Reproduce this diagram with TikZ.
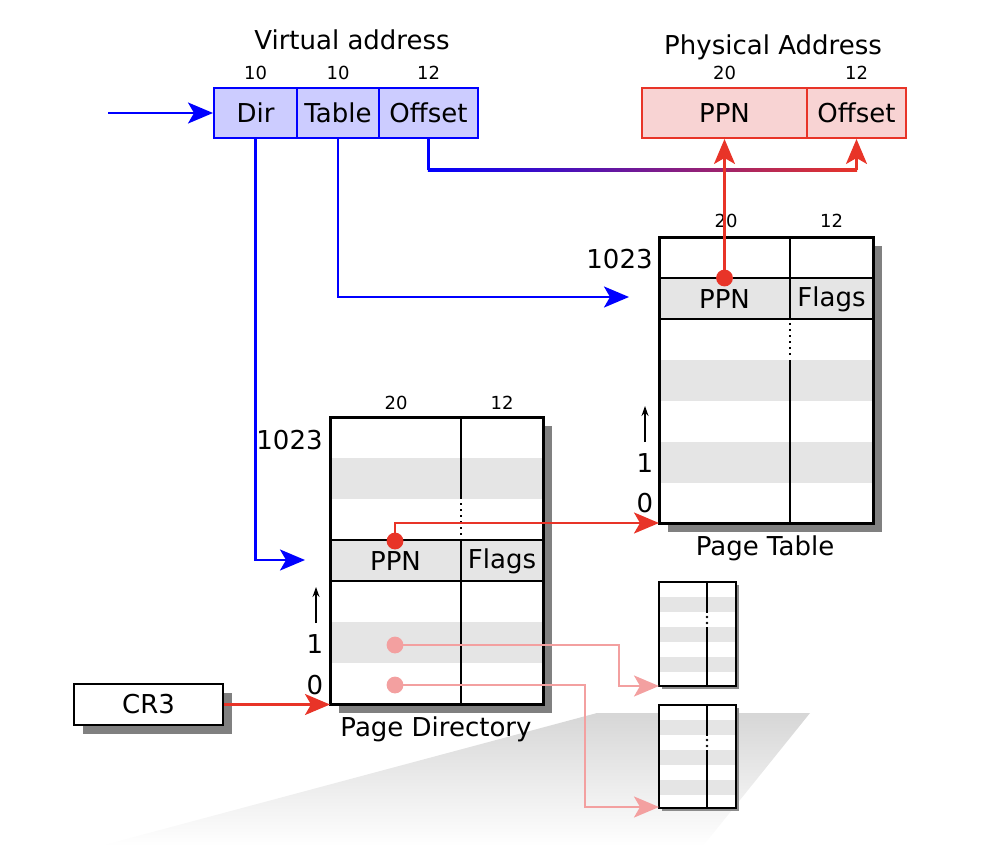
\documentclass[tikz,border=0pt]{standalone}
\usepackage{fontspec}
\setmainfont{DejaVu Sans}
\usetikzlibrary{arrows.meta}
\definecolor{vablue}{RGB}{0,0,255}
\definecolor{vafill}{RGB}{204,204,255}
\definecolor{pared}{RGB}{232,52,40}
\definecolor{pafill}{RGB}{248,211,211}
\definecolor{lightred}{RGB}{243,160,160}
\definecolor{stripe}{RGB}{229,229,229}
\definecolor{shadowgray}{RGB}{128,128,128}
\tikzset{
  bigfont/.style={font=\fontsize{13}{15}\selectfont},
  bitfont/.style={font=\fontsize{9}{10}\selectfont},
  vacell/.style={draw=vablue,fill=vafill,line width=1pt,minimum height=25pt,inner sep=0pt,bigfont},
  pacell/.style={draw=pared,fill=pafill,line width=1pt,minimum height=25pt,inner sep=0pt,bigfont},
  bigtip/.style={-{Stealth[length=12.5pt,width=10.5pt,inset=3pt]}},
  smalltip/.style={-{Stealth[length=5pt,width=3.5pt]}},
  link/.style={line width=1.2pt},
}
\begin{document}
\begin{tikzpicture}[x=0.5pt,y=-0.5pt]
  \useasboundingbox (0,0) rectangle (984,846);
  % floor shadow
  \shade[top color=black!16,bottom color=white] (597,713) -- (810,713) -- (703,846) -- (100,846) -- cycle;

  % virtual address
  \node[bigfont] (vatitle) at (352,40) {Virtual address};
  \node[vacell,minimum width=41.5pt] (dir) at (255.5,113) {Dir};
  \node[vacell,minimum width=41pt] (tbl) at (338,113) {Table};
  \node[vacell,minimum width=49.5pt] (vaoff) at (428.5,113) {Offset};
  \node[bitfont] (dirbits) at (255.5,73) {10};
  \node[bitfont] (tblbits) at (338,73) {10};
  \node[bitfont] (vaoffbits) at (428.5,73) {12};

  % physical address
  \node[bigfont] (patitle) at (773,47) {Physical Address};
  \node[pacell,minimum width=82.5pt] (pappn) at (724.5,113) {PPN};
  \node[pacell,minimum width=49.5pt] (paoff) at (856.5,113) {Offset};
  \node[bitfont] (pappnbits) at (724.5,73) {20};
  \node[bitfont] (paoffbits) at (856.5,73) {12};

  % page table
  \fill[shadowgray] (668,246) rectangle (882,532);
  \fill[white] (659,237) rectangle (873,523);
  \fill[stripe] (659,278) rectangle (873,319);
  \fill[stripe] (659,360) rectangle (873,401);
  \fill[stripe] (659,442) rectangle (873,483);
  \draw[line width=1pt] (659,278) -- (873,278) (659,319) -- (873,319);
  \draw[line width=1pt] (790,237) -- (790,319) (790,360) -- (790,523);
  \draw[line width=1pt,dotted] (790,323) -- (790,356);
  \draw[line width=1.5pt] (659,237) rectangle (873,523);
  \node[bigfont] (ptppn) at (724.5,299) {PPN};
  \node[bigfont] (ptflags) at (831.5,299) {Flags};
  \node[bitfont] (ptppnbits) at (726,221) {20};
  \node[bitfont] (ptflagsbits) at (831.5,221) {12};
  \node[bigfont,anchor=east,inner sep=0pt] (pttop) at (653,259) {1023};
  \node[bigfont] (ptone) at (645,463) {1};
  \node[bigfont] (ptzero) at (645,503) {0};
  \draw[line width=0.8pt,smalltip] (645,442) -- (645,406);
  \node[bigfont] (ptname) at (765,548) {Page Table};

  % page directory
  \fill[shadowgray] (339,426) rectangle (552,713);
  \fill[white] (330,417) rectangle (543,704);
  \fill[stripe] (330,458) rectangle (543,499);
  \fill[stripe] (330,540) rectangle (543,581);
  \fill[stripe] (330,622) rectangle (543,663);
  \draw[line width=1pt] (330,540) -- (543,540) (330,581) -- (543,581);
  \draw[line width=1pt] (461,417) -- (461,499) (461,540) -- (461,704);
  \draw[line width=1pt,dotted] (461,503) -- (461,537);
  \draw[line width=1.5pt] (330,417) rectangle (543,704);
  \node[bigfont] (pdppn) at (395.5,561) {PPN};
  \node[bigfont] (pdflags) at (502,561) {Flags};
  \node[bitfont] (pdppnbits) at (396,403) {20};
  \node[bitfont] (pdflagsbits) at (502,403) {12};
  \node[bigfont,anchor=east,inner sep=0pt] (pdtop) at (323,440) {1023};
  \node[bigfont] (pdone) at (315,644) {1};
  \node[bigfont] (pdzero) at (315,685) {0};
  \draw[line width=0.8pt,smalltip] (316,623) -- (316,587);
  \node[bigfont] (pdname) at (436,729) {Page Directory};

  % two more page tables
  \fill[black!45] (662,585) rectangle (739,689);
  \fill[white] (659,582) rectangle (736,686);
  \fill[stripe] (659,597) rectangle (736,612);
  \fill[stripe] (659,627) rectangle (736,642);
  \fill[stripe] (659,657) rectangle (736,672);
  \draw[line width=1pt] (707,582) -- (707,613) (707,627) -- (707,686);
  \fill (707,617) circle[radius=0.7pt] (707,623) circle[radius=0.7pt];
  \draw[line width=1.4pt] (659,582) rectangle (736,686);

  \fill[black!45] (662,708) rectangle (739,811);
  \fill[white] (659,705) rectangle (736,808);
  \fill[stripe] (659,720) rectangle (736,735);
  \fill[stripe] (659,750) rectangle (736,765);
  \fill[stripe] (659,780) rectangle (736,795);
  \draw[line width=1pt] (707,705) -- (707,736) (707,750) -- (707,808);
  \fill (707,740) circle[radius=0.7pt] (707,746) circle[radius=0.7pt];
  \draw[line width=1.4pt] (659,705) rectangle (736,808);

  % CR3
  \fill[shadowgray] (83,693) rectangle (232,734);
  \node[draw,fill=white,line width=1pt,minimum width=74.5pt,minimum height=20.5pt,inner sep=0pt,bigfont] (cr3) at (148.5,704.5) {CR3};

  % connectors
  \coordinate (vain) at (108,113);
  \coordinate (pdin) at (305,560);
  \coordinate (ptin) at (629,297);
  \coordinate (pdbase) at (330,704.5);
  \coordinate (ptbase) at (659,523);
  \coordinate (obl) at (428.5,170);
  \coordinate (obr) at (856.5,170);
  \coordinate (pddot) at (395,541);
  \coordinate (ptdot) at (724.5,278);
  \coordinate (pdone dot) at (395,645);
  \coordinate (pdzero dot) at (395,685);
  \coordinate (stabase) at (659,686);
  \coordinate (stbbase) at (659,807);

  \draw[vablue,link,bigtip] (vain) -- (dir.west);
  \draw[vablue,link,bigtip] (dir.south) |- (pdin);
  \draw[vablue,link,bigtip] (tbl.south) |- (ptin);
  \draw[vablue,link] (vaoff.south) -- (obl);
  \shade[left color=vablue,right color=pared] (427.9,168.8) rectangle (857.1,171.2);
  \draw[pared,link,bigtip] (obr) -- (paoff.south);
  \draw[pared,link,bigtip] (ptdot) -- (pappn.south);
  \draw[pared,link,bigtip] (pddot) |- (ptbase);
  \draw[pared,link,bigtip] (cr3.east) -- (pdbase);
  \draw[lightred,link,bigtip] (pdone dot) -- (619,645) |- (stabase);
  \draw[lightred,link,bigtip] (pdzero dot) -- (585,685) |- (stbbase);

  \fill[pared] (pddot) circle[radius=4.2pt];
  \fill[pared] (ptdot) circle[radius=4.2pt];
  \fill[lightred] (pdone dot) circle[radius=4.2pt];
  \fill[lightred] (pdzero dot) circle[radius=4.2pt];
\end{tikzpicture}
\end{document}
